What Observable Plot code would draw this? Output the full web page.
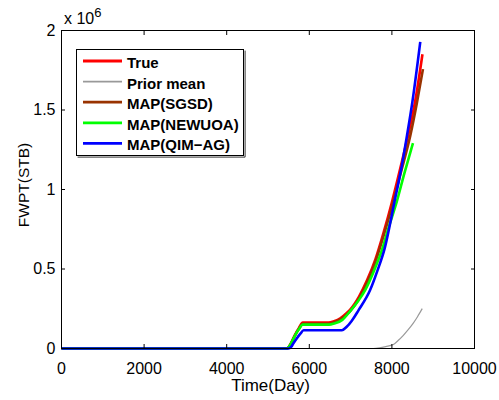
<!DOCTYPE html>
<html><head><meta charset="utf-8">
<script src="https://cdn.jsdelivr.net/npm/d3@7"></script>
<script src="https://cdn.jsdelivr.net/npm/@observablehq/plot@0.6"></script>
<style>
body{margin:0;background:#fff;}
#wrap{position:relative;width:499px;height:400px;}
</style></head><body><div id="wrap"></div>
<script>
const xTicks = [0, 2000, 4000, 6000, 8000, 10000];
const yTicks = [0, 500000, 1000000, 1500000, 2000000];
const yTickLabels = ["0", "0.5", "1", "1.5", "2"];
const seriesNames = ["True", "Prior mean", "MAP(SGSD)", "MAP(NEWUOA)", "MAP(QIM\u2212AG)"];
const seriesColors = ["#ff0000", "#999999", "#993300", "#00ff00", "#0000ff"];

const trueDays = [0, 5450, 5500, 5560, 5650, 5750, 5840, 6466, 6600, 6750, 6900, 7000, 7200, 7400, 7600, 7800, 8000, 8200, 8400, 8560, 8740];
const trueVals = [0, 0, 8000, 35000, 85000, 130000, 163000, 163000, 172000, 190000, 222000, 248000, 325000, 430000, 560000, 730000, 920000, 1130000, 1350000, 1550000, 1851000];

const priorDays = [0, 7550, 7700, 7850, 8035, 8150, 8277, 8400, 8518, 8620, 8735];
const priorVals = [0, 0, 4000, 12000, 25000, 50000, 83000, 120000, 160000, 200000, 251000];

const sgsdDays = [0, 5450, 5500, 5560, 5650, 5750, 5840, 6470, 6600, 6750, 6900, 7000, 7200, 7400, 7600, 7800, 8000, 8200, 8445, 8607, 8752];
const sgsdVals = [0, 0, 7000, 32000, 80000, 124000, 155000, 155000, 165000, 183000, 213000, 238000, 312000, 415000, 545000, 710000, 890000, 1090000, 1338000, 1547000, 1757000];

const newuoaDays = [0, 5440, 5500, 5560, 5650, 5750, 5840, 6480, 6600, 6800, 6990, 7200, 7350, 7570, 7760, 7920, 8120, 8300, 8510];
const newuoaVals = [0, 0, 8000, 33000, 80000, 122000, 150000, 150000, 157000, 180000, 235000, 305000, 366000, 491000, 620000, 760000, 925000, 1100000, 1292000];

const qimDays = [0, 5500, 5560, 5620, 5700, 5790, 5862, 6790, 6900, 7030, 7190, 7470, 7650, 7820, 8060, 8240, 8365, 8494, 8687];
const qimVals = [0, 0, 10000, 35000, 65000, 95000, 115000, 115000, 135000, 175000, 240000, 366000, 490000, 625000, 920000, 1150000, 1338000, 1547000, 1928000];

const seriesDays = [trueDays, priorDays, sgsdDays, newuoaDays, qimDays];
const seriesVals = [trueVals, priorVals, sgsdVals, newuoaVals, qimVals];
const seriesWidths = [2.6, 1.2, 2.6, 2.6, 2.6];

const FONT = "'Liberation Sans', Arial, Helvetica, sans-serif";

const lineMarks = seriesNames.map((name, s) => {
  const rows = seriesDays[s].map((d, i) => ({day: d, val: seriesVals[s][i]}));
  return Plot.line(rows, {x: "day", y: "val", stroke: seriesColors[s], strokeWidth: seriesWidths[s], curve: "monotone-x", strokeLinecap: "butt"});
});

const chart = Plot.plot({
  width: 499,
  height: 400,
  marginLeft: 61,
  marginRight: 25,
  marginTop: 30,
  marginBottom: 52,
  style: {fontFamily: FONT, fontSize: "16px", color: "black", background: "white", overflow: "visible"},
  x: {domain: [0, 10000]},
  y: {domain: [0, 2000000]},
  marks: [
    ...lineMarks,
    Plot.frame({stroke: "black", strokeWidth: 1}),
    Plot.axisX({ticks: xTicks, anchor: "bottom", tickSize: 0, tickPadding: 14, tickFormat: d => String(d), label: null, fontSize: 16}),
    Plot.axisX({ticks: xTicks, anchor: "bottom", tickSize: -4, tickFormat: () => "", label: null}),
    Plot.axisX({ticks: xTicks, anchor: "top", tickSize: -4, tickFormat: () => "", label: null}),
    Plot.axisY({ticks: yTicks, anchor: "left", tickSize: 0, tickPadding: 6, tickFormat: d => yTickLabels[yTicks.indexOf(d)], label: null, fontSize: 16}),
    Plot.axisY({ticks: yTicks, anchor: "left", tickSize: -4, tickFormat: () => "", label: null}),
    Plot.axisY({ticks: yTicks, anchor: "right", tickSize: -4, tickFormat: () => "", label: null})
  ]
});

document.getElementById("wrap").appendChild(chart);

const svg = d3.select(chart);
// exponent label
const ex = svg.append("text").attr("x", 64).attr("y", 24).attr("text-anchor", "start").attr("font-family", FONT).attr("font-size", 16).attr("fill", "black");
ex.append("tspan").text("x 10");
ex.append("tspan").attr("dy", -7).attr("font-size", 13).text("6");

// axis labels
svg.append("text").attr("x", 270.5).attr("y", 391).attr("text-anchor", "middle")
  .attr("font-family", FONT).attr("font-size", 17).attr("fill", "black").text("Time(Day)");
svg.append("text").attr("transform", "translate(28.5,185) rotate(-90)").attr("text-anchor", "middle")
  .attr("font-family", FONT).attr("font-size", 15.5).attr("fill", "black").text("FWPT(STB)");

// legend
const lg = svg.append("g");
lg.append("rect").attr("x", 76.5).attr("y", 49.5).attr("width", 167).attr("height", 106)
  .attr("fill", "white").attr("stroke", "black").attr("stroke-width", 1);
lg.append("path").attr("d", "M77,156.5H244.5V50").attr("fill", "none").attr("stroke", "#333").attr("stroke-width", 1).attr("transform", "translate(0.6,0.6)");
seriesNames.forEach((name, i) => {
  const y = 61 + i * 20.6;
  lg.append("line").attr("x1", 83).attr("x2", 122).attr("y1", y).attr("y2", y)
    .attr("stroke", seriesColors[i]).attr("stroke-width", i === 1 ? 1.6 : 2.8);
  lg.append("text").attr("x", 127).attr("y", y + 7).attr("text-anchor", "start").attr("font-family", FONT).attr("font-size", 15)
    .attr("font-weight", "bold").attr("fill", "black").text(name);
});
</script>
</body></html>
